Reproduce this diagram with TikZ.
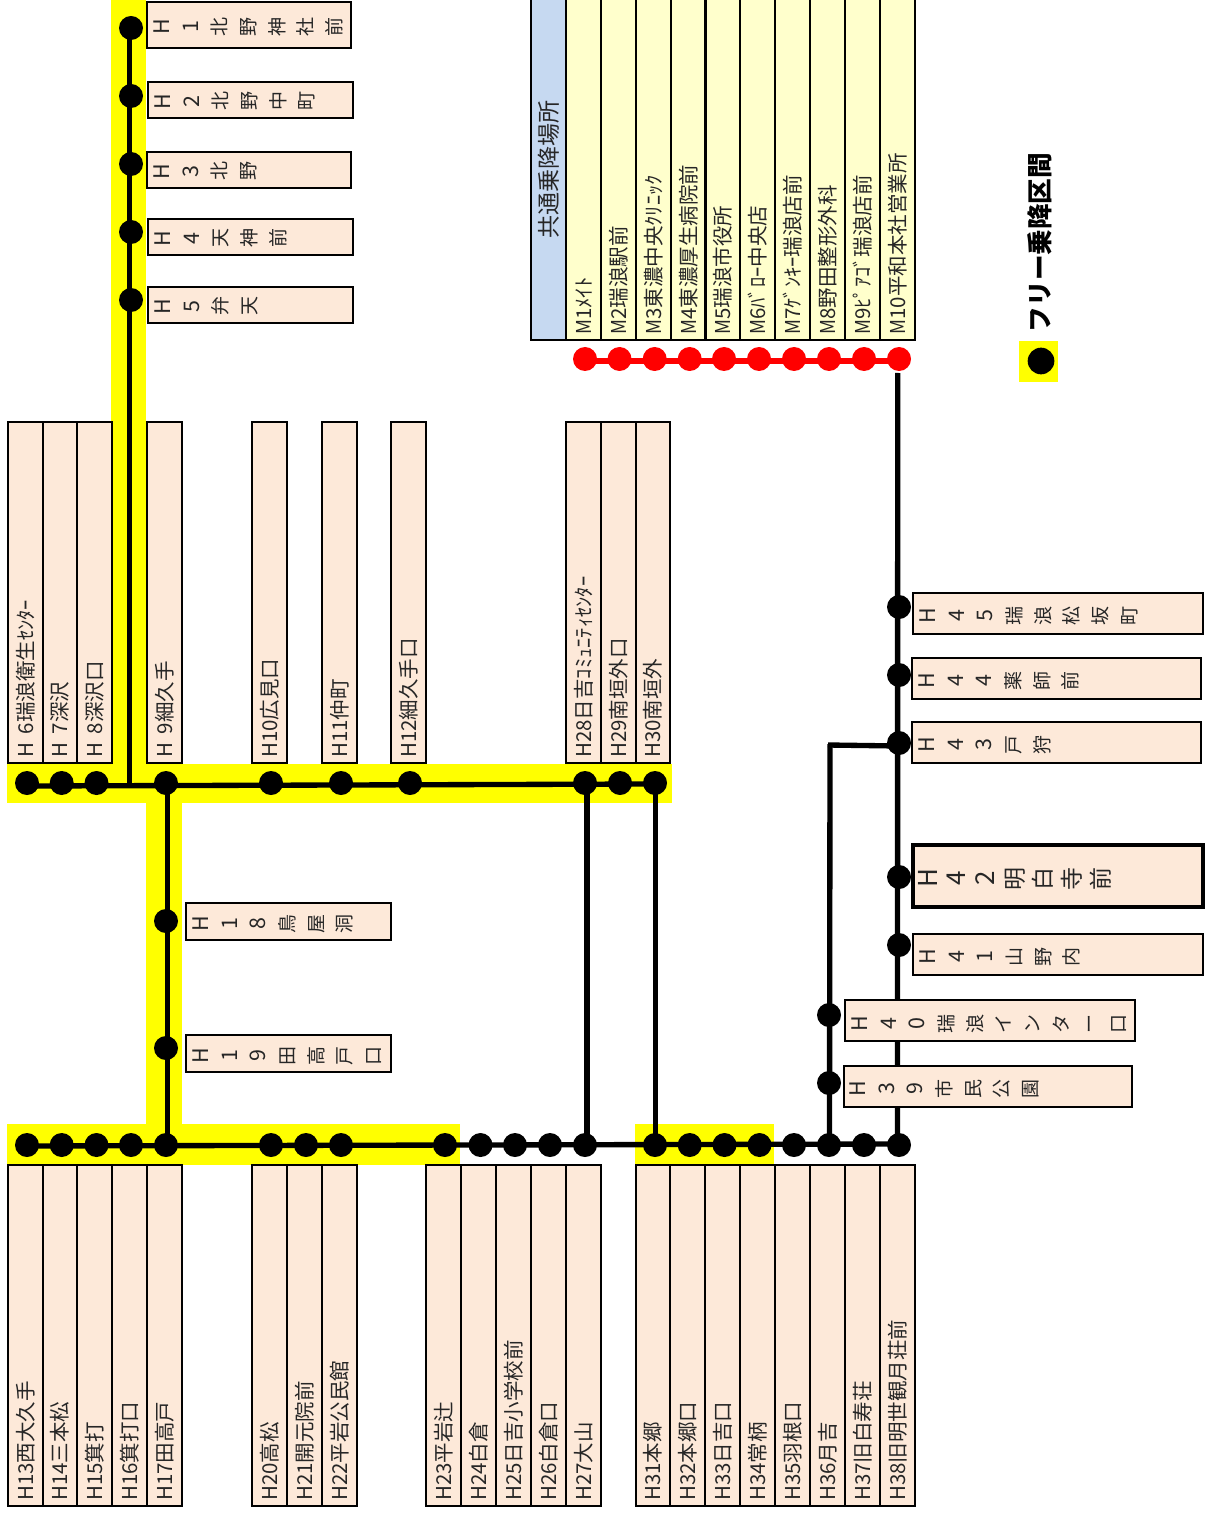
\documentclass[tikz,border=0pt]{standalone}
\usepackage{fontspec}
\usepackage{graphicx}
\usetikzlibrary{calc}
\setmainfont{Noto Sans CJK JP}
\definecolor{cellfill}{HTML}{FDE9D9}
\definecolor{mfill}{HTML}{FFFFCC}
\definecolor{headfill}{HTML}{C6D9F1}
\definecolor{bandyellow}{HTML}{FFFF00}
\definecolor{linered}{HTML}{FF0000}
\newcommand{\pxfont}[1]{\pgfmathsetmacro\fsz{#1*0.75}\fontsize{\fsz}{\fsz}\selectfont}
\newcommand{\rtbox}[1]{\makebox[21.5pt][c]{\rotatebox[origin=c]{90}{\makebox[1em][c]{\rule[-.12em]{0pt}{1em}#1}}}}
\newcommand{\rtpick}[1]{\ifnum`#1<128 \rtbox{\scalebox{1.13}{#1}}\else\rtbox{#1}\fi}
\newcommand{\rtchar}[1]{\expandafter\rtpick\expandafter{#1}}
\newcommand{\Mx}{\scalebox{.9}[1]{M}}
\newcommand{\Hs}[1]{H \hspace{.2em}#1}
% name, x0, y0, x1, y1, fill, label
\newcommand{\vcell}[7]{%
  \node[cellbox,fill=#6,anchor=north west,minimum width={(#4-#2)*0.75pt},minimum height={(#5-#3)*0.75pt}] (#1) at (#2,#3) {};
  \node[vlabel] (t#1) at ($(#1.south)+(0,-5)$) {\rule[-.12em]{0pt}{1em}#7};
}
% name, x0, y0, x1, y1, first char x, text y, chars
\newcommand{\hcell}[8]{%
  \node[cellbox,fill=cellfill,anchor=north west,minimum width={(#4-#2)*0.75pt},minimum height={(#5-#3)*0.75pt}] (#1) at (#2,#3) {};
  \node[hlabel] (t#1) at (#6-14.35,#7+1.5) {\foreach \c in {#8}{\rtchar{\c}}};
}
\tikzset{
  cellbox/.style={draw=black,line width=1.9pt,inner sep=0pt,outer sep=0pt},
  vlabel/.style={rotate=90,anchor=west,inner sep=0pt,font=\pxfont{20.5},text=black!85},
  hlabel/.style={anchor=west,inner sep=0pt,font=\pxfont{19},text=black!85},
  stopdot/.style={circle,fill=black,minimum size=18pt,inner sep=0pt,outer sep=0pt},
  reddot/.style={circle,fill=linered,minimum size=18pt,inner sep=0pt,outer sep=0pt},
  route/.style={draw=black,line width=4pt},
  redroute/.style={draw=linered,line width=4pt},
  band/.style={fill=bandyellow,draw=none},
}
\begin{document}
\begin{tikzpicture}[x=0.75pt,y=-0.75pt]
\useasboundingbox (0,0) rectangle (1208,1515);
% free-ride bands
\fill[band] (111,0) rectangle (146,803);
\fill[band] (7,764) rectangle (672,803);
\fill[band] (146,803) rectangle (182,1125);
\fill[band] (7,1124) rectangle (460,1165);
\fill[band] (635,1124) rectangle (774,1165);
\fill[band] (1019,341) rectangle (1058,382);
% stops
\foreach \n/\y in {1/28,2/96,3/164,4/232,5/300} \node[stopdot] (s\n) at (131,\y) {};
\foreach \n/\x in {6/27,7/61.7,8/96.5,9/166,10/271,11/341,12/410,28/585,29/620,30/655} \node[stopdot] (s\n) at (\x,783) {};
\foreach \n/\x in {13/27,14/61.7,15/96.5,16/131,17/166,20/271,21/306,22/341,23/445,24/480.5,25/515,26/550,27/585,31/655,32/689.7,33/724.5,34/759.5,35/794,36/829,37/864,38/899} \node[stopdot] (s\n) at (\x,1145) {};
\node[stopdot] (s18) at (166,921) {};
\node[stopdot] (s19) at (166,1048) {};
\node[stopdot] (s39) at (829,1083) {};
\node[stopdot] (s40) at (829,1015) {};
\foreach \n/\y in {41/945,42/877,43/743,44/675,45/607} \node[stopdot] (s\n) at (899,\y) {};
\foreach \n/\x in {1/585,2/619.5,3/654.7,4/689.7,5/724,6/759,7/794,8/829,9/864,10/899} \node[reddot] (m\n) at (\x,359) {};
\node[stopdot,minimum size=20pt] (legenddot) at (1041,361) {};
% connectors
\coordinate (j1) at (129.5,785);
\coordinate (j2) at (897.7,373);
\coordinate (j3) at (830,744);
\draw[route] ($(s1)+(-1.5,0)$) -- (j1);
\draw[route] ($(s6)+(0,3)$) -- ($(s30)+(0,1)$);
\draw[route] ($(s9)+(1.5,0)$) -- ($(s17)+(1.5,0)$);
\draw[route] ($(s13)+(0,1)$) -- ($(s38)+(0,-1)$);
\draw[route] ($(s28)+(2,0)$) -- ($(s27)+(2,0)$);
\draw[route] ($(s30)+(.5,0)$) -- ($(s31)+(.5,0)$);
\draw[route] (j2) -- ($(s38)+(-1.5,0)$);
\draw[route] (j3) -- ($(s36)+(.5,0)$);
\draw[route] ($(j3)+(-2,1)$) -- ($(s43)+(0,3)$);
\draw[redroute] ($(m1)+(0,2)$) -- ($(m10)+(0,2)$);
% upper branch boxes
\hcell{H1}{147}{2}{351}{48}{162}{25.5}{H,1,北,野,神,社,前}
\hcell{H2}{148}{82}{353}{118}{163}{100}{H,2,北,野,中,町}
\hcell{H3}{147}{152}{351}{188}{162}{170}{H,3,北,野}
\hcell{H4}{148}{219}{353}{255}{163}{237}{H,4,天,神,前}
\hcell{H5}{148}{287}{353}{323}{163}{305}{H,5,弁,天}
% upper row
\vcell{H6}{8}{422}{43}{763}{cellfill}{\Hs{6}瑞浪衛生ｾﾝﾀｰ}
\vcell{H7}{43}{422}{77}{763}{cellfill}{\Hs{7}深沢}
\vcell{H8}{77}{422}{112}{763}{cellfill}{\Hs{8}深沢口}
\vcell{H9}{147}{422}{182}{763}{cellfill}{\Hs{9}細久手}
\vcell{H10}{252}{422}{287}{763}{cellfill}{H10広見口}
\vcell{H11}{322}{422}{357}{763}{cellfill}{H11仲町}
\vcell{H12}{391}{422}{426}{763}{cellfill}{H12細久手口}
\vcell{H28}{566}{422}{601}{763}{cellfill}{H28日吉ｺﾐｭﾆﾃｨｾﾝﾀｰ}
\vcell{H29}{601}{422}{636}{763}{cellfill}{H29南垣外口}
\vcell{H30}{636}{422}{670}{763}{cellfill}{H30南垣外}
% middle branch
\hcell{H18}{186}{903}{391}{940}{201}{922}{H,1,8,鳥,屋,洞}
\hcell{H19}{186}{1035}{391}{1072}{201}{1054}{H,1,9,田,高,戸,口}
% lower row
\vcell{H13}{8}{1165}{43}{1506}{cellfill}{H13西大久手}
\vcell{H14}{43}{1165}{77}{1506}{cellfill}{H14三本松}
\vcell{H15}{77}{1165}{112}{1506}{cellfill}{H15箕打}
\vcell{H16}{112}{1165}{147}{1506}{cellfill}{H16箕打口}
\vcell{H17}{147}{1165}{182}{1506}{cellfill}{H17田高戸}
\vcell{H20}{252}{1165}{287}{1506}{cellfill}{H20高松}
\vcell{H21}{287}{1165}{322}{1506}{cellfill}{H21開元院前}
\vcell{H22}{322}{1165}{357}{1506}{cellfill}{H22平岩公民館}
\vcell{H23}{426}{1165}{461}{1506}{cellfill}{H23平岩辻}
\vcell{H24}{461}{1165}{496}{1506}{cellfill}{H24白倉}
\vcell{H25}{496}{1165}{531}{1506}{cellfill}{H25日吉小学校前}
\vcell{H26}{531}{1165}{566}{1506}{cellfill}{H26白倉口}
\vcell{H27}{566}{1165}{601}{1506}{cellfill}{H27大山}
\vcell{H31}{636}{1165}{670}{1506}{cellfill}{H31本郷}
\vcell{H32}{670}{1165}{705}{1506}{cellfill}{H32本郷口}
\vcell{H33}{705}{1165}{740}{1506}{cellfill}{H33日吉口}
\vcell{H34}{740}{1165}{775}{1506}{cellfill}{H34常柄}
\vcell{H35}{775}{1165}{810}{1506}{cellfill}{H35羽根口}
\vcell{H36}{810}{1165}{845}{1506}{cellfill}{H36月吉}
\vcell{H37}{845}{1165}{880}{1506}{cellfill}{H37旧白寿荘}
\vcell{H38}{880}{1165}{915}{1506}{cellfill}{H38旧明世観月荘前}
% right branch boxes
\hcell{H45}{913}{593}{1203}{634}{928}{614}{H,4,5,瑞,浪,松,坂,町}
\hcell{H44}{912}{658}{1201}{699}{927}{679}{H,4,4,薬,師,前}
\hcell{H43}{912}{722}{1201}{763}{927}{743}{H,4,3,戸,狩}
\hcell{H41}{913}{934}{1203}{975}{928}{955}{H,4,1,山,野,内}
\hcell{H40}{845}{1000}{1135}{1041}{860}{1022}{H,4,0,瑞,浪,イ,ン,タ,ー,口}
\hcell{H39}{844}{1066}{1132}{1107}{858}{1087}{H,3,9,市,民,公,園}
\node[cellbox,line width=2.4pt,fill=cellfill,anchor=north west,minimum width={290*0.75pt},minimum height={62*0.75pt}] (H42) at (913,845) {};
\node[hlabel,font=\pxfont{23}] (tH42) at (928-14.35,878.5) {\foreach \c in {H,4,2,明,白,寺,前}{\rtchar{\c}}};
% shared stops table
\vcell{Mhead}{531}{-4}{566}{340}{headfill}{}
\node[vlabel,anchor=center,font=\pxfont{23}] (tMhead) at (548.5,169.5) {\rule[-.12em]{0pt}{1em}共通乗降場所};
\vcell{M1}{566}{-4}{601}{340}{mfill}{\Mx 1ﾒｲﾄ}
\vcell{M2}{601}{-4}{636}{340}{mfill}{\Mx 2瑞浪駅前}
\vcell{M3}{636}{-4}{671}{340}{mfill}{\Mx 3東濃中央ｸﾘﾆｯｸ}
\vcell{M4}{671}{-4}{705.5}{340}{mfill}{\Mx 4東濃厚生病院前}
\vcell{M5}{705.5}{-4}{740}{340}{mfill}{\Mx 5瑞浪市役所}
\vcell{M6}{740}{-4}{775}{340}{mfill}{\Mx 6ﾊﾞﾛｰ中央店}
\vcell{M7}{775}{-4}{810}{340}{mfill}{\Mx 7ｹﾞﾝｷｰ瑞浪店前}
\vcell{M8}{810}{-4}{845}{340}{mfill}{\Mx 8野田整形外科}
\vcell{M9}{845}{-4}{880}{340}{mfill}{\Mx 9ﾋﾟｱｺﾞ瑞浪店前}
\vcell{M10}{880}{-4}{915}{340}{mfill}{\Mx 10平和本社営業所}
% legend
\node[vlabel,anchor=center,font=\bfseries\pxfont{25.6},text=black] (legend) at (1040,242.5) {\rule[-.12em]{0pt}{1em}フリー乗降区間};
\end{tikzpicture}
\end{document}
